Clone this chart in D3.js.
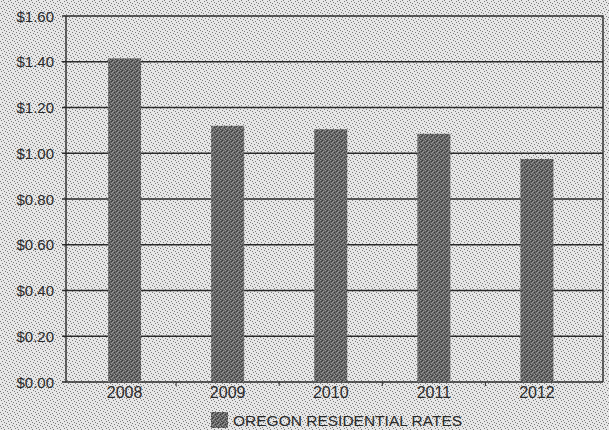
<!DOCTYPE html>
<html>
<head>
<meta charset="utf-8">
<script src="https://cdn.jsdelivr.net/npm/d3@7"></script>
<style>
  body { margin: 0; background: #dcdcdc; }
  svg { display: block; font-family: "Liberation Sans", Arial, sans-serif; }
</style>
</head>
<body>
<div id="chart"></div>
<script>
// data
const years = ["2008", "2009", "2010", "2011", "2012"];
const rates = [1.415, 1.12, 1.105, 1.085, 0.975];
const yTicks = [0, 0.2, 0.4, 0.6, 0.8, 1.0, 1.2, 1.4, 1.6];
const seriesName = "OREGON RESIDENTIAL RATES";

const W = 609, H = 430;
const plot = { left: 66, right: 603, top: 16, bottom: 382 };

const svg = d3.select("#chart").append("svg")
  .attr("width", W)
  .attr("height", H);

// stippled paper texture
const defs = svg.append("defs");
const paper = defs.append("pattern")
  .attr("id", "paper")
  .attr("width", 7).attr("height", 7)
  .attr("patternUnits", "userSpaceOnUse");
paper.append("rect").attr("width", 7).attr("height", 7).attr("fill", "#e6e6e6");
[[1, 1], [4, 2], [2, 4], [5, 5], [6, 3], [0, 6], [3, 0]].forEach(p => {
  paper.append("rect").attr("x", p[0]).attr("y", p[1])
    .attr("width", 1).attr("height", 1).attr("fill", "#7a7a7a");
});

const ink = defs.append("pattern")
  .attr("id", "ink")
  .attr("width", 5).attr("height", 5)
  .attr("patternUnits", "userSpaceOnUse");
ink.append("rect").attr("width", 5).attr("height", 5).attr("fill", "#666");
[[0, 0], [3, 1], [1, 3], [4, 4], [2, 2]].forEach(p => {
  ink.append("rect").attr("x", p[0]).attr("y", p[1])
    .attr("width", 1).attr("height", 1).attr("fill", "#999");
});
[[2, 0], [4, 2], [0, 4], [1, 1]].forEach(p => {
  ink.append("rect").attr("x", p[0]).attr("y", p[1])
    .attr("width", 1).attr("height", 1).attr("fill", "#3a3a3a");
});

svg.append("rect").attr("width", W).attr("height", H).attr("fill", "url(#paper)");

// scales
const x = d3.scaleBand()
  .domain(years)
  .range([73, 588.5])
  .paddingInner(0.68)
  .paddingOuter(0.34);

const y = d3.scaleLinear()
  .domain([0, 1.6])
  .range([plot.bottom, plot.top]);

// gridlines
svg.append("g")
  .selectAll("line")
  .data(yTicks)
  .join("line")
  .attr("x1", plot.left - 4)
  .attr("x2", plot.right)
  .attr("y1", d => y(d))
  .attr("y2", d => y(d))
  .attr("stroke", "#2a2a2a")
  .attr("stroke-width", 1.4);

// y labels
svg.append("g")
  .selectAll("text")
  .data(yTicks)
  .join("text")
  .attr("x", 54)
  .attr("y", d => y(d) + 5.5)
  .attr("text-anchor", "end")
  .attr("fill", "#2a2a2a")
  .style("font-size", "15px")
  .text(d => "$" + d.toFixed(2));

// bars
svg.append("g")
  .selectAll("rect")
  .data(rates)
  .join("rect")
  .attr("x", (d, i) => x(years[i]))
  .attr("y", d => y(d))
  .attr("width", x.bandwidth())
  .attr("height", d => y(0) - y(d))
  .attr("fill", "url(#ink)");

// frame: left axis, right edge
svg.append("line")
  .attr("x1", plot.left).attr("x2", plot.left)
  .attr("y1", plot.top).attr("y2", plot.bottom)
  .attr("stroke", "#2a2a2a").attr("stroke-width", 1.4);
svg.append("line")
  .attr("x1", plot.right).attr("x2", plot.right)
  .attr("y1", plot.top).attr("y2", plot.bottom)
  .attr("stroke", "#2a2a2a").attr("stroke-width", 1.4);

// category ticks at band boundaries
const step = x.step();
svg.append("g")
  .selectAll("line")
  .data(years.slice(1))
  .join("line")
  .attr("x1", d => x(d) - step * 0.34)
  .attr("x2", d => x(d) - step * 0.34)
  .attr("y1", plot.bottom)
  .attr("y2", plot.bottom + 4)
  .attr("stroke", "#2a2a2a");

// x labels
svg.append("g")
  .attr("transform", `translate(0,${plot.bottom})`)
  .call(d3.axisBottom(x).tickSize(0).tickPadding(5))
  .call(g => g.select(".domain").remove())
  .call(g => g.selectAll("text")
    .attr("fill", "#2a2a2a")
    .style("font-size", "16px")
    .style("font-family", "'Liberation Sans', Arial, sans-serif"));

// legend
const legend = svg.append("g").attr("transform", "translate(211,412)");
legend.append("rect")
  .attr("width", 17).attr("height", 16)
  .attr("fill", "url(#ink)");
legend.append("text")
  .attr("x", 22)
  .attr("y", 14)
  .attr("fill", "#2a2a2a")
  .style("font-size", "15.5px")
  .text(seriesName);
</script>
</body>
</html>
